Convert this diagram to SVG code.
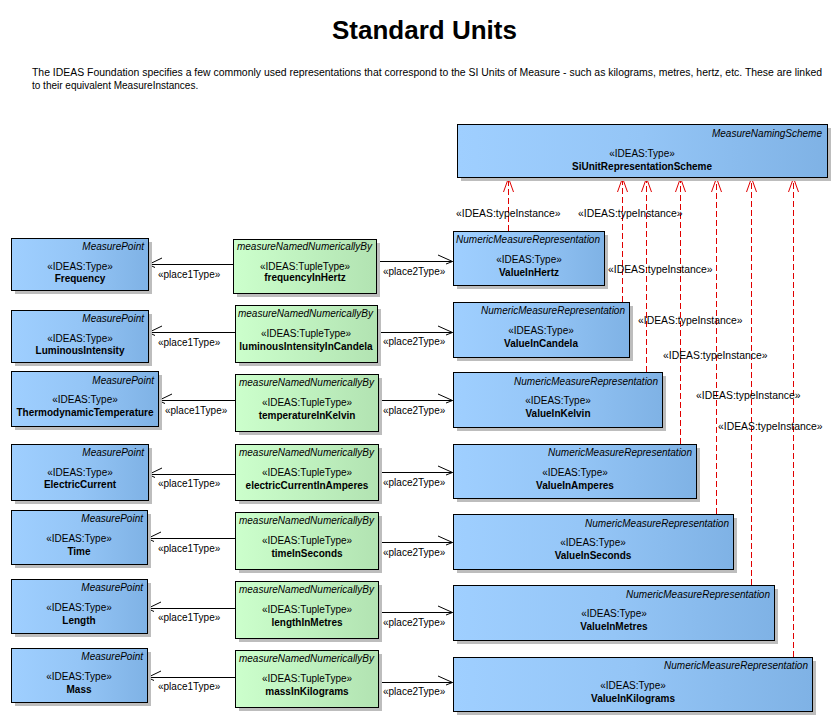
<svg xmlns="http://www.w3.org/2000/svg" width="839" height="722" viewBox="0 0 839 722">
<defs>
<linearGradient id="gb" x1="0" y1="0" x2="1" y2="0"><stop offset="0" stop-color="#9FCFFF"/><stop offset="0.5" stop-color="#94C5F6"/><stop offset="1" stop-color="#7FB2E5"/></linearGradient>
<linearGradient id="gg" x1="0" y1="0" x2="1" y2="0"><stop offset="0" stop-color="#CCFFCC"/><stop offset="1" stop-color="#B2E3B2"/></linearGradient>
<style>
text{font-family:"Liberation Sans",Arial,sans-serif;font-size:10px;fill:#000}
.sh{fill:#BDBDBD}
.b{fill:url(#gb);stroke:#000;stroke-width:1}
.g{fill:url(#gg);stroke:#000;stroke-width:1}
.it{font-style:italic;text-anchor:end}
.st{text-anchor:middle}
.nm{font-weight:bold;text-anchor:middle}
.ln{stroke:#000;stroke-width:1;fill:none}
.rd{stroke:#E00000;stroke-width:1;fill:none;stroke-dasharray:6,3}
.ra{stroke:#E00000;stroke-width:1;fill:none}
.ti{font-size:10.4px}
</style>
</defs>
<rect width="839" height="722" fill="#FFFFFF"/>
<text x="424.5" y="39" text-anchor="middle" style="font-size:26px;font-weight:bold">Standard Units</text>
<text x="32" y="76" textLength="790" lengthAdjust="spacingAndGlyphs">The IDEAS Foundation specifies a few commonly used representations that correspond to the SI Units of Measure - such as kilograms, metres, hertz, etc. These are linked</text>
<text x="32" y="89">to their equivalent MeasureInstances.</text>

<g id="connectors">
<!-- place1Type -->
<path class="ln" d="M233 264.5H148.5M162 258L148.5 264.5L155 267.5"/>
<path class="ln" d="M235 332.5H148.5M162 326L148.5 332.5L155 335.5"/>
<path class="ln" d="M235 400.5H158.5M172 394L158.5 400.5L165 403.5"/>
<path class="ln" d="M235 474.5H148.5M162 468L148.5 474.5L155 477.5"/>
<path class="ln" d="M235 538.5H147.5M161 532L147.5 538.5L154 541.5"/>
<path class="ln" d="M235 608.5H147.5M161 602L147.5 608.5L154 611.5"/>
<path class="ln" d="M235 677.5H147.5M161 671L147.5 677.5L154 680.5"/>
<text x="158" y="278">«place1Type»</text>
<text x="158" y="346">«place1Type»</text>
<text x="165" y="414">«place1Type»</text>
<text x="158" y="487">«place1Type»</text>
<text x="158" y="552">«place1Type»</text>
<text x="158" y="621">«place1Type»</text>
<text x="158" y="690">«place1Type»</text>
<!-- place2Type -->
<path class="ln" d="M376 261.5H452.5M438 255L452.5 261.5L446 264"/>
<path class="ln" d="M377 332.5H452.5M438 326L452.5 332.5L446 335"/>
<path class="ln" d="M378 400.5H452.5M438 394L452.5 400.5L446 403"/>
<path class="ln" d="M378 472.5H452.5M438 466L452.5 472.5L446 475"/>
<path class="ln" d="M378 542.5H452.5M438 536L452.5 542.5L446 545"/>
<path class="ln" d="M378 612.5H452.5M438 606L452.5 612.5L446 615"/>
<path class="ln" d="M378 682.5H452.5M438 676L452.5 682.5L446 685"/>
<text x="383" y="275">«place2Type»</text>
<text x="383" y="345">«place2Type»</text>
<text x="383" y="414">«place2Type»</text>
<text x="383" y="486">«place2Type»</text>
<text x="383" y="556">«place2Type»</text>
<text x="383" y="626">«place2Type»</text>
<text x="383" y="695">«place2Type»</text>
<!-- typeInstance -->
<path class="rd" d="M508.5 231V178"/><path class="ra" d="M503.5 192L508.5 178L513.5 192"/>
<path class="rd" d="M622.5 302V178"/><path class="ra" d="M617.5 192L622.5 178L627.5 192"/>
<path class="rd" d="M646.5 372V178"/><path class="ra" d="M641.5 192L646.5 178L651.5 192"/>
<path class="rd" d="M680.5 444V178"/><path class="ra" d="M675.5 192L680.5 178L685.5 192"/>
<path class="rd" d="M716.5 514V178"/><path class="ra" d="M711.5 192L716.5 178L721.5 192"/>
<path class="rd" d="M751.5 585V178"/><path class="ra" d="M746.5 192L751.5 178L756.5 192"/>
<path class="rd" d="M793.5 657V178"/><path class="ra" d="M788.5 192L793.5 178L798.5 192"/>
<text class="ti" x="456" y="217">«IDEAS:typeInstance»</text>
<text class="ti" x="578" y="217">«IDEAS:typeInstance»</text>
<text class="ti" x="608" y="273">«IDEAS:typeInstance»</text>
<text class="ti" x="638" y="324">«IDEAS:typeInstance»</text>
<text class="ti" x="663" y="359">«IDEAS:typeInstance»</text>
<text class="ti" x="696" y="399">«IDEAS:typeInstance»</text>
<text class="ti" x="718" y="430">«IDEAS:typeInstance»</text>
</g>

<g id="SiUnitRepresentationScheme">
<rect class="sh" x="461" y="128" width="370" height="53"/>
<rect class="b" x="457.5" y="124.5" width="370" height="53"/>
<text class="it" x="822" y="137">MeasureNamingScheme</text>
<text class="st" x="642" y="157">«IDEAS:Type»</text>
<text class="nm" x="642" y="170">SiUnitRepresentationScheme</text>
</g>

<!-- MeasurePoint boxes -->
<g id="Frequency">
<rect class="sh" x="15" y="242" width="137" height="52"/>
<rect class="b" x="11.5" y="238.5" width="137" height="52"/>
<text class="it" x="144" y="250">MeasurePoint</text>
<text class="st" x="80" y="270">«IDEAS:Type»</text>
<text class="nm" x="80" y="282">Frequency</text>
</g>
<g id="LuminousIntensity">
<rect class="sh" x="15" y="314" width="137" height="52"/>
<rect class="b" x="11.5" y="310.5" width="137" height="52"/>
<text class="it" x="144" y="322">MeasurePoint</text>
<text class="st" x="80" y="342">«IDEAS:Type»</text>
<text class="nm" x="80" y="354">LuminousIntensity</text>
</g>
<g id="ThermodynamicTemperature">
<rect class="sh" x="15" y="375" width="147" height="55"/>
<rect class="b" x="11.5" y="371.5" width="147" height="55"/>
<text class="it" x="154" y="384">MeasurePoint</text>
<text class="st" x="85" y="403">«IDEAS:Type»</text>
<text class="nm" x="85" y="416">ThermodynamicTemperature</text>
</g>
<g id="ElectricCurrent">
<rect class="sh" x="15" y="448" width="137" height="56"/>
<rect class="b" x="11.5" y="444.5" width="137" height="56"/>
<text class="it" x="144" y="456">MeasurePoint</text>
<text class="st" x="80" y="476">«IDEAS:Type»</text>
<text class="nm" x="80" y="488">ElectricCurrent</text>
</g>
<g id="Time">
<rect class="sh" x="15" y="514" width="136" height="54"/>
<rect class="b" x="11.5" y="510.5" width="136" height="54"/>
<text class="it" x="143" y="522">MeasurePoint</text>
<text class="st" x="79" y="542">«IDEAS:Type»</text>
<text class="nm" x="79" y="555">Time</text>
</g>
<g id="Length">
<rect class="sh" x="15" y="583" width="136" height="54"/>
<rect class="b" x="11.5" y="579.5" width="136" height="54"/>
<text class="it" x="143" y="591">MeasurePoint</text>
<text class="st" x="79" y="611">«IDEAS:Type»</text>
<text class="nm" x="79" y="624">Length</text>
</g>
<g id="Mass">
<rect class="sh" x="15" y="652" width="136" height="54"/>
<rect class="b" x="11.5" y="648.5" width="136" height="54"/>
<text class="it" x="143" y="660">MeasurePoint</text>
<text class="st" x="79" y="680">«IDEAS:Type»</text>
<text class="nm" x="79" y="693">Mass</text>
</g>

<!-- Tuple boxes -->
<g id="frequencyInHertz">
<rect class="sh" x="237" y="243" width="143" height="54"/>
<rect class="g" x="233.5" y="239.5" width="143" height="54"/>
<text class="it" x="372" y="250">measureNamedNumericallyBy</text>
<text class="st" x="305" y="270">«IDEAS:TupleType»</text>
<text class="nm" x="305" y="281">frequencyInHertz</text>
</g>
<g id="luminousIntensityInCandela">
<rect class="sh" x="239" y="309" width="142" height="57"/>
<rect class="g" x="235.5" y="305.5" width="142" height="57"/>
<text class="it" x="373" y="317">measureNamedNumericallyBy</text>
<text class="st" x="306" y="337">«IDEAS:TupleType»</text>
<text class="nm" x="306" y="350">luminousIntensityInCandela</text>
</g>
<g id="temperatureInKelvin">
<rect class="sh" x="239" y="378" width="143" height="57"/>
<rect class="g" x="235.5" y="374.5" width="143" height="57"/>
<text class="it" x="374" y="386">measureNamedNumericallyBy</text>
<text class="st" x="307" y="406">«IDEAS:TupleType»</text>
<text class="nm" x="307" y="419">temperatureInKelvin</text>
</g>
<g id="electricCurrentInAmperes">
<rect class="sh" x="239" y="448" width="143" height="56"/>
<rect class="g" x="235.5" y="444.5" width="143" height="56"/>
<text class="it" x="374" y="456">measureNamedNumericallyBy</text>
<text class="st" x="307" y="476">«IDEAS:TupleType»</text>
<text class="nm" x="307" y="489">electricCurrentInAmperes</text>
</g>
<g id="timeInSeconds">
<rect class="sh" x="239" y="516" width="143" height="57"/>
<rect class="g" x="235.5" y="512.5" width="143" height="57"/>
<text class="it" x="374" y="524">measureNamedNumericallyBy</text>
<text class="st" x="307" y="544">«IDEAS:TupleType»</text>
<text class="nm" x="307" y="557">timeInSeconds</text>
</g>
<g id="lengthInMetres">
<rect class="sh" x="239" y="585" width="143" height="57"/>
<rect class="g" x="235.5" y="581.5" width="143" height="57"/>
<text class="it" x="374" y="593">measureNamedNumericallyBy</text>
<text class="st" x="307" y="613">«IDEAS:TupleType»</text>
<text class="nm" x="307" y="626">lengthInMetres</text>
</g>
<g id="massInKilograms">
<rect class="sh" x="239" y="654" width="143" height="57"/>
<rect class="g" x="235.5" y="650.5" width="143" height="57"/>
<text class="it" x="374" y="662">measureNamedNumericallyBy</text>
<text class="st" x="307" y="682">«IDEAS:TupleType»</text>
<text class="nm" x="307" y="695">massInKilograms</text>
</g>

<!-- Value boxes -->
<g id="ValueInHertz">
<rect class="sh" x="457" y="235" width="151" height="54"/>
<rect class="b" x="453.5" y="231.5" width="151" height="54"/>
<text class="it" x="600" y="243">NumericMeasureRepresentation</text>
<text class="st" x="529" y="263">«IDEAS:Type»</text>
<text class="nm" x="529" y="276">ValueInHertz</text>
</g>
<g id="ValueInCandela">
<rect class="sh" x="457" y="306" width="176" height="55"/>
<rect class="b" x="453.5" y="302.5" width="176" height="55"/>
<text class="it" x="625" y="314">NumericMeasureRepresentation</text>
<text class="st" x="541" y="334">«IDEAS:Type»</text>
<text class="nm" x="541" y="347">ValueInCandela</text>
</g>
<g id="ValueInKelvin">
<rect class="sh" x="457" y="376" width="209" height="55"/>
<rect class="b" x="453.5" y="372.5" width="209" height="55"/>
<text class="it" x="658" y="385">NumericMeasureRepresentation</text>
<text class="st" x="558" y="404">«IDEAS:Type»</text>
<text class="nm" x="558" y="417">ValueInKelvin</text>
</g>
<g id="ValueInAmperes">
<rect class="sh" x="457" y="448" width="243" height="54"/>
<rect class="b" x="453.5" y="444.5" width="243" height="54"/>
<text class="it" x="692" y="456">NumericMeasureRepresentation</text>
<text class="st" x="575" y="476">«IDEAS:Type»</text>
<text class="nm" x="575" y="489">ValueInAmperes</text>
</g>
<g id="ValueInSeconds">
<rect class="sh" x="457" y="518" width="280" height="55"/>
<rect class="b" x="453.5" y="514.5" width="280" height="55"/>
<text class="it" x="729" y="527">NumericMeasureRepresentation</text>
<text class="st" x="593" y="546">«IDEAS:Type»</text>
<text class="nm" x="593" y="559">ValueInSeconds</text>
</g>
<g id="ValueInMetres">
<rect class="sh" x="457" y="589" width="321" height="55"/>
<rect class="b" x="453.5" y="585.5" width="321" height="55"/>
<text class="it" x="770" y="598">NumericMeasureRepresentation</text>
<text class="st" x="614" y="617">«IDEAS:Type»</text>
<text class="nm" x="614" y="630">ValueInMetres</text>
</g>
<g id="ValueInKilograms">
<rect class="sh" x="457" y="661" width="359" height="54"/>
<rect class="b" x="453.5" y="657.5" width="359" height="54"/>
<text class="it" x="808" y="669">NumericMeasureRepresentation</text>
<text class="st" x="633" y="689">«IDEAS:Type»</text>
<text class="nm" x="633" y="702">ValueInKilograms</text>
</g>
</svg>
